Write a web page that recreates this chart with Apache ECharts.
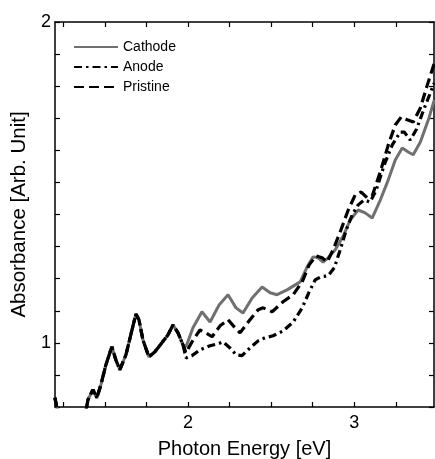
<!DOCTYPE html>
<html>
<head>
<meta charset="utf-8">
<script src="https://cdn.jsdelivr.net/npm/echarts@6/dist/echarts.min.js"></script>
<style>
  html, body { margin: 0; padding: 0; background: #fff; }
  #chart { width: 435px; height: 459px; }
</style>
</head>
<body>
<div id="chart"></div>
<script>
// shared low-energy part (all three spectra overlap there)
const common = [
  [1.199, 0.829], [1.211, 0.80], [1.229, 0.76], [1.38, 0.76], [1.385, 0.785],
  [1.398, 0.822], [1.428, 0.854], [1.452, 0.829], [1.476, 0.869], [1.506, 0.931],
  [1.542, 0.988], [1.566, 0.947], [1.590, 0.916], [1.627, 0.963], [1.663, 1.040],
  [1.687, 1.090], [1.705, 1.072], [1.729, 1.009], [1.765, 0.956], [1.801, 0.972],
  [1.843, 1.000], [1.880, 1.025], [1.910, 1.056], [1.940, 1.031], [1.970, 0.994]
];

const cathode = [
  [1.988, 0.988], [2.030, 1.047], [2.084, 1.097], [2.133, 1.065], [2.187, 1.118],
  [2.241, 1.150], [2.289, 1.109], [2.331, 1.093], [2.386, 1.140], [2.446, 1.174],
  [2.494, 1.156], [2.536, 1.150], [2.596, 1.165], [2.675, 1.190], [2.717, 1.237],
  [2.753, 1.268], [2.783, 1.265], [2.813, 1.252], [2.843, 1.265], [2.886, 1.290],
  [2.934, 1.333], [2.976, 1.383], [3.024, 1.414], [3.066, 1.405], [3.108, 1.389],
  [3.157, 1.445], [3.205, 1.508], [3.247, 1.570], [3.289, 1.607], [3.325, 1.595],
  [3.355, 1.586], [3.398, 1.626], [3.446, 1.695], [3.482, 1.757]
];

const anode = [
  [1.988, 0.953], [2.024, 0.960], [2.072, 0.978], [2.133, 0.991], [2.181, 0.997],
  [2.211, 1.003], [2.253, 0.984], [2.289, 0.963], [2.325, 0.960], [2.373, 0.984],
  [2.422, 1.006], [2.464, 1.016], [2.512, 1.022], [2.572, 1.037], [2.633, 1.065],
  [2.687, 1.109], [2.729, 1.159], [2.765, 1.196], [2.801, 1.206], [2.843, 1.209],
  [2.880, 1.234], [2.916, 1.290], [2.952, 1.352], [2.988, 1.399], [3.024, 1.430],
  [3.060, 1.445], [3.096, 1.439], [3.133, 1.477], [3.181, 1.555], [3.229, 1.617],
  [3.277, 1.657], [3.301, 1.657], [3.337, 1.632], [3.373, 1.664], [3.422, 1.732],
  [3.482, 1.810]
];

const pristine = [
  [1.988, 0.969], [2.024, 1.003], [2.072, 1.040], [2.108, 1.031], [2.145, 1.019],
  [2.193, 1.053], [2.241, 1.072], [2.283, 1.047], [2.313, 1.031], [2.373, 1.072],
  [2.422, 1.103], [2.452, 1.109], [2.506, 1.097], [2.572, 1.128], [2.633, 1.150],
  [2.687, 1.190], [2.729, 1.243], [2.771, 1.271], [2.807, 1.265], [2.837, 1.252],
  [2.873, 1.290], [2.916, 1.346], [2.964, 1.414], [3.006, 1.461], [3.042, 1.470],
  [3.078, 1.452], [3.108, 1.458], [3.157, 1.533], [3.205, 1.617], [3.247, 1.679],
  [3.283, 1.704], [3.319, 1.695], [3.355, 1.688], [3.398, 1.732], [3.440, 1.804],
  [3.482, 1.872]
];

const xTicks = [1.25, 1.5, 1.75, 2, 2.25, 2.5, 2.75, 3, 3.25];
const xLabels = [2, 3];
const yLabels = [1, 2];

const font = 'Liberation Sans, Arial, sans-serif';
const chart = echarts.init(document.getElementById('chart'));

const xBase = {
  type: 'value', min: 1.2, max: 3.48,
  axisLine: { lineStyle: { color: '#000', width: 1.5 } },
  axisTick: { inside: true, length: 5, customValues: xTicks, lineStyle: { color: '#000', width: 1.2 } },
  splitLine: { show: false }
};
const yBase = {
  type: 'value', min: 0.8, max: 2.0, interval: 0.1,
  axisLine: { show: true, lineStyle: { color: '#000', width: 1.5 } },
  axisTick: { inside: true, length: 5, lineStyle: { color: '#000', width: 1.2 } },
  splitLine: { show: false }
};

chart.setOption({
  animation: false,
  backgroundColor: '#fff',
  grid: { left: 55, right: 1, top: 22, bottom: 52, outerBoundsMode: 'none', containLabel: false },
  legend: {
    orient: 'vertical', left: 68, top: 35,
    itemWidth: 44, itemHeight: 14, itemGap: 6,
    itemStyle: { opacity: 0 },
    textStyle: { fontFamily: font, fontSize: 14, color: '#000' },
    data: ['Cathode', 'Anode', 'Pristine']
  },
  xAxis: [
    Object.assign({}, xBase, {
      position: 'bottom',
      name: 'Photon Energy [eV]', nameLocation: 'middle', nameGap: 32,
      nameTextStyle: { fontFamily: font, fontSize: 20, color: '#000' },
      axisLabel: { customValues: xLabels, margin: 7, fontFamily: font, fontSize: 18, color: '#000' }
    }),
    Object.assign({}, xBase, { position: 'top', axisLabel: { show: false } })
  ],
  yAxis: [
    Object.assign({}, yBase, {
      position: 'left',
      name: 'Absorbance [Arb. Unit]', nameLocation: 'middle', nameGap: 23,
      nameTextStyle: { fontFamily: font, fontSize: 20.5, color: '#000' },
      axisLabel: {
        margin: 4, fontFamily: font, fontSize: 18, color: '#000',
        formatter: v => yLabels.some(l => Math.abs(l - v) < 1e-6) ? String(Math.round(v)) : ''
      }
    }),
    Object.assign({}, yBase, { position: 'right', axisLabel: { show: false } })
  ],
  series: [
    {
      name: 'Cathode', type: 'line', symbol: 'none', clip: true,
      data: common.concat(cathode),
      lineStyle: { color: '#707070', width: 3, type: 'solid' },
      itemStyle: { color: '#707070' }, z: 3
    },
    {
      name: 'Anode', type: 'line', symbol: 'none', clip: true,
      data: common.concat(anode),
      lineStyle: { color: '#000', width: 3.2, type: [8, 4, 2.5, 4] },
      itemStyle: { color: '#000' }, z: 4
    },
    {
      name: 'Pristine', type: 'line', symbol: 'none', clip: true,
      data: common.concat(pristine),
      lineStyle: { color: '#000', width: 3.2, type: [10, 5] },
      itemStyle: { color: '#000' }, z: 5
    }
  ]
});
</script>
</body>
</html>
